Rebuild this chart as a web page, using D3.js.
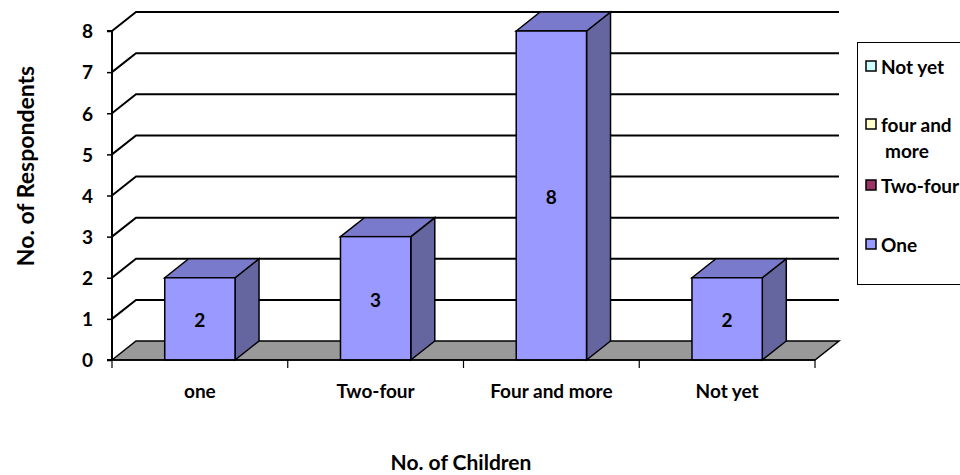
<!DOCTYPE html>
<html>
<head>
<meta charset="utf-8">
<script src="https://cdn.jsdelivr.net/npm/d3@7"></script>
<style>
  html, body { margin: 0; padding: 0; background: #fff; }
  svg { display: block; font-family: Lato, "Open Sans", sans-serif; font-weight: bold; }
</style>
</head>
<body>
<svg id="chart" width="960" height="475"></svg>
<script>
// Respondents by number of children
const categories = ["one", "Two-four", "Four and more", "Not yet"];
const respondents = [2, 3, 8, 2];
const yTicks = [0, 1, 2, 3, 4, 5, 6, 7, 8];
const legendLabels = [["Not yet"], ["four and", "more"], ["Two-four"], ["One"]];
const legendColors = ["#ccffff", "#ffffcc", "#993366", "#9999ff"];

const svg = d3.select("#chart");

// plot geometry (front plane) and depth offset of the 3-D box
const plotLeft = 112, plotRight = 815, plotBottom = 360, plotTop = 31;
const dx = 24, dy = -19;
const labelSize = 19;

const x = d3.scaleBand().domain(categories).range([plotLeft, plotRight]).paddingInner(0.6).paddingOuter(0.3);
const y = d3.scaleLinear().domain([0, 8]).range([plotBottom, plotTop]);

const line = d3.line();

// back wall gridlines with their diagonal run along the left wall
const grid = svg.append("g").attr("stroke", "#000").attr("stroke-width", 2).attr("fill", "none");
yTicks.filter(t => t > 0).forEach(t => {
  grid.append("path").attr("d", line([[plotLeft, y(t)], [plotLeft + dx, y(t) + dy], [plotRight + dx, y(t) + dy]]));
});

// floor
svg.append("path")
  .attr("d", line([[plotLeft, y(0)], [plotLeft + dx, y(0) + dy], [plotRight + dx, y(0) + dy], [plotRight, y(0)]]) + "Z")
  .attr("fill", "#999999").attr("stroke", "#000").attr("stroke-width", 1.5);

// bars as boxes: front, top and side faces
const bars = svg.append("g").selectAll("g").data(categories).join("g");
bars.each(function(c, i) {
  const g = d3.select(this);
  const x0 = x(c), x1 = x(c) + x.bandwidth();
  const yv = y(respondents[i]), y0 = y(0);
  g.append("path")
    .attr("d", line([[x1, y0], [x1 + dx, y0 + dy], [x1 + dx, yv + dy], [x1, yv]]) + "Z")
    .attr("fill", "#65659f").attr("stroke", "#000").attr("stroke-width", 1.5);
  g.append("path")
    .attr("d", line([[x0, yv], [x0 + dx, yv + dy], [x1 + dx, yv + dy], [x1, yv]]) + "Z")
    .attr("fill", "#7a7acc").attr("stroke", "#000").attr("stroke-width", 1.5);
  g.append("rect")
    .attr("x", x0).attr("y", yv).attr("width", x.bandwidth()).attr("height", y0 - yv)
    .attr("fill", "#9999ff").attr("stroke", "#000").attr("stroke-width", 1.5);
  g.append("text")
    .attr("x", (x0 + x1) / 2).attr("y", (yv + y0) / 2 + 1)
    .attr("text-anchor", "middle").attr("dominant-baseline", "central")
    .attr("font-size", labelSize).text(respondents[i]);
});

// y axis
const yAxis = svg.append("g").attr("transform", `translate(${plotLeft},0)`)
  .call(d3.axisLeft(y).tickValues(yTicks).tickSize(5).tickPadding(14));
yAxis.select(".domain").attr("stroke", "#000").attr("stroke-width", 2).attr("d", `M-5,${y(0)}H0V${y(8)}H-5`);
yAxis.selectAll(".tick line").attr("stroke", "#000").attr("stroke-width", 1.5);
yAxis.selectAll(".tick text").attr("font-size", labelSize).attr("font-weight", "bold")
  .attr("font-family", "Lato, sans-serif").attr("fill", "#000").attr("dy", "0.36em");

// x axis: ticks on category boundaries
const xAxis = svg.append("g").attr("transform", `translate(0,${plotBottom})`);
xAxis.append("line").attr("x1", plotLeft).attr("x2", plotRight).attr("stroke", "#000").attr("stroke-width", 1.5);
const bounds = d3.range(categories.length + 1).map(i => plotLeft + i * (plotRight - plotLeft) / categories.length);
xAxis.selectAll("line.tk").data(bounds).join("line").attr("class", "tk")
  .attr("x1", d => d).attr("x2", d => d).attr("y1", 0).attr("y2", 8)
  .attr("stroke", "#000").attr("stroke-width", 1.2);
xAxis.selectAll("text").data(categories).join("text")
  .attr("x", c => x(c) + x.bandwidth() / 2).attr("y", 30)
  .attr("text-anchor", "middle").attr("dominant-baseline", "central")
  .attr("font-size", labelSize).text(c => c);

// axis titles
svg.append("text").attr("x", 461).attr("y", 470).attr("text-anchor", "middle")
  .attr("font-size", 21).text("No. of Children");
svg.append("text").attr("transform", "translate(25,166) rotate(-90)").attr("text-anchor", "middle")
  .attr("dominant-baseline", "central").attr("font-size", 23).text("No. of Respondents");

// legend
const lg = svg.append("g");
lg.append("rect").attr("x", 857.5).attr("y", 42.5).attr("width", 120).attr("height", 242)
  .attr("fill", "#fff").attr("stroke", "#000").attr("stroke-width", 1);
const legendY = [66, 124, 185, 244];
legendLabels.forEach((lines, i) => {
  lg.append("rect").attr("x", 866).attr("y", legendY[i] - 5).attr("width", 10).attr("height", 10)
    .attr("fill", legendColors[i]).attr("stroke", "#000").attr("stroke-width", 1.5);
  const t = lg.append("text").attr("x", 881).attr("y", legendY[i]).attr("dominant-baseline", "central")
    .attr("font-size", labelSize);
  lines.forEach((s, j) => t.append("tspan").attr("x", j === 0 ? 881 : 885).attr("dy", j === 0 ? 0 : 26).text(s));
});
</script>
</body>
</html>
